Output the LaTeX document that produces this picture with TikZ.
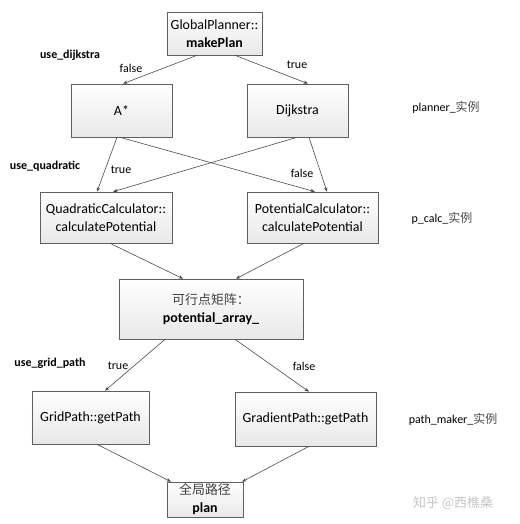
\documentclass[tikz,border=0pt]{standalone}
\usepackage{fontspec}
\setmainfont{Carlito}
\newfontfamily\cjk{Noto Sans CJK SC}
\usetikzlibrary{arrows.meta}
\tikzset{
  box/.style={draw=gray!75!black, line width=0.6bp, top color=white, bottom color=gray!18,
    rectangle, align=center, inner sep=2bp, font=\fontsize{14}{18}\selectfont},
  conn/.style={draw=gray!60!black, line width=0.6bp, -{Stealth[length=4.5bp,width=3.5bp]}},
  lbl/.style={font=\fontsize{12}{14}\selectfont},
  cond/.style={font=\fontsize{12}{14}\selectfont\bfseries},
  side/.style={font=\fontsize{12}{14}\selectfont}
}
\newcommand{\zh}[1]{{\cjk\fontsize{13}{18}\selectfont\color{black!75}#1}}
\begin{document}
\begin{tikzpicture}[x=1bp,y=-1bp]
\useasboundingbox[fill=white] (0,0) rectangle (520,524);
% boxes
\node[box, minimum width=95bp, minimum height=43bp] (gp) at (214.5,33.5) {GlobalPlanner::\\\textbf{makePlan}};
\node[box, minimum width=101bp, minimum height=53bp] (astar) at (121.5,110.5) {A*};
\node[box, minimum width=101bp, minimum height=53bp] (dij) at (297.5,110.5) {Dijkstra};
\node[box, minimum width=132bp, minimum height=51bp] (quad) at (106,217.5) {QuadraticCalculator::\\calculatePotential};
\node[box, minimum width=131bp, minimum height=51bp] (pot) at (312.5,217.5) {PotentialCalculator::\\calculatePotential};
\node[box, minimum width=184bp, minimum height=60bp] (arr) at (211,309) {\zh{可行点矩阵：}\\\textbf{potential\_array\_}};
\node[box, minimum width=117bp, minimum height=53bp] (grid) at (90.5,417.5) {GridPath::getPath};
\node[box, minimum width=141bp, minimum height=54bp] (grad) at (305.5,419) {GradientPath::getPath};
\node[box, minimum width=76bp, minimum height=35bp, inner sep=1bp] (plan) at (205,499.5) {\zh{全局路径}\\\textbf{plan}};
% connectors
\draw[conn] ([xshift=-17.5bp]gp.south) -- ([xshift=1.5bp]astar.north);
\draw[conn] ([xshift=20.5bp]gp.south) -- ([xshift=10.5bp]dij.north);
\draw[conn] ([xshift=-4.5bp]astar.south) -- ([xshift=-9bp]quad.north);
\draw[conn] ([xshift=-1.5bp]astar.south) -- ([xshift=2.5bp]pot.north);
\draw[conn] ([xshift=-0.5bp]dij.south) -- ([xshift=7bp]quad.north);
\draw[conn] ([xshift=11.5bp]dij.south) -- ([xshift=14.5bp]pot.north);
\draw[conn] ([xshift=4bp]quad.south) -- ([xshift=-28bp]arr.north);
\draw[conn] ([xshift=-8.5bp]pot.south) -- ([xshift=25bp]arr.north);
\draw[conn] ([xshift=-46bp]arr.south) -- ([xshift=14.5bp]grid.north);
\draw[conn] ([xshift=24bp]arr.south) -- ([xshift=3.5bp]grad.north);
\draw[conn] ([xshift=6.5bp]grid.south) -- ([xshift=-34bp]plan.north);
\draw[conn] ([xshift=3.5bp]grad.south) -- ([xshift=37bp]plan.north);
% labels
\node[cond] (c1) at (70,55) {use\_dijkstra};
\node[lbl] (f1) at (131,68) {false};
\node[lbl] (t1) at (297,65) {true};
\node[cond] (c2) at (45,166) {use\_quadratic};
\node[lbl] (t2) at (121,170) {true};
\node[lbl] (f2) at (302,173) {false};
\node[cond] (c3) at (50,363) {use\_grid\_path};
\node[lbl] (t3) at (118,366) {true};
\node[lbl] (f3) at (304,366) {false};
\node[side] (s1) at (446,107) {planner\_{\cjk\color{black!70}实例}};
\node[side] (s2) at (442,218) {p\_calc\_{\cjk\color{black!70}实例}};
\node[side] (s3) at (453,419) {path\_maker\_{\cjk\color{black!70}实例}};
\node[font=\fontsize{13}{15}\selectfont\cjk, text=gray!45] (wm) at (453,503) {知乎 @西樵桑};
\end{tikzpicture}
\end{document}
